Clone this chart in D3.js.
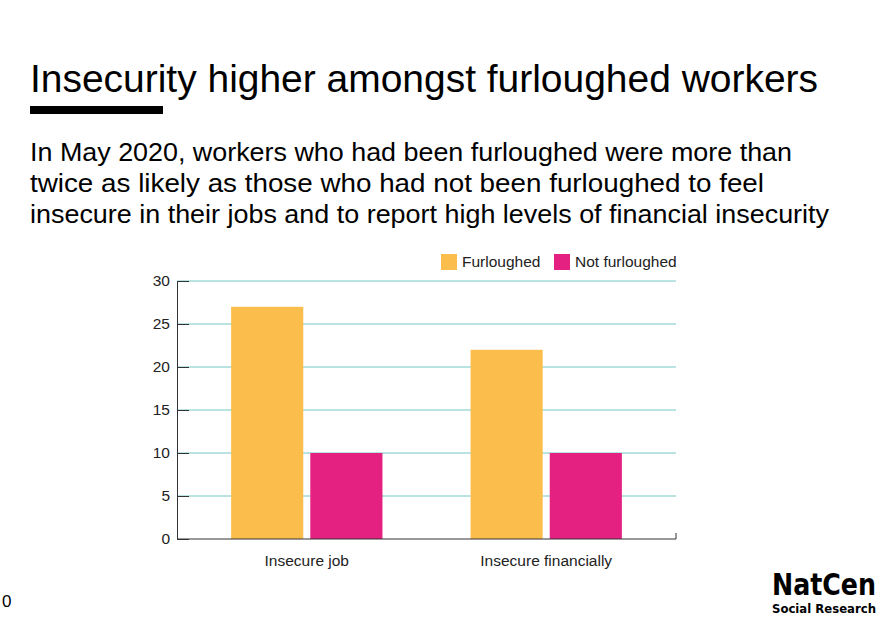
<!DOCTYPE html>
<html><head><meta charset="utf-8">
<script src="https://cdn.jsdelivr.net/npm/d3@7"></script>
<style>body{margin:0;background:#fff;} svg{display:block;font-family:"Liberation Sans",Arial,sans-serif;}</style>
</head><body>
<script>
const categories = ["Insecure job", "Insecure financially"];
const seriesNames = ["Furloughed", "Not furloughed"];
const furloughed = [27, 22];
const notFurloughed = [10, 10];
const yTicks = [0, 5, 10, 15, 20, 25, 30];
const colors = ["#FBBE4D", "#E42180"];

const W = 893, H = 623;
const svg = d3.select("body").append("svg").attr("width", W).attr("height", H);

// Title
svg.append("text").attr("x", 30).attr("y", 92).attr("font-size", 38).attr("fill", "#000")
  .attr("textLength", 788).attr("lengthAdjust", "spacingAndGlyphs")
  .text("Insecurity higher amongst furloughed workers");
svg.append("rect").attr("x", 30).attr("y", 106).attr("width", 133).attr("height", 8).attr("fill", "#000");

const sub = ["In May 2020, workers who had been furloughed were more than",
  "twice as likely as those who had not been furloughed to feel",
  "insecure in their jobs and to report high levels of financial insecurity"];
const subLen = [762, 734, 799];
svg.append("g").selectAll("text").data(sub).join("text")
  .attr("x", 30).attr("y", (d, i) => 161 + i * 31).attr("font-size", 26).attr("fill", "#000")
  .attr("textLength", (d, i) => subLen[i]).attr("lengthAdjust", "spacingAndGlyphs").text(d => d);

// Chart
const x0 = 177, x1 = 676, yTop = 281, yBot = 539;
const x = d3.scaleBand().domain(categories).range([x0, x1]).paddingInner(0.368).paddingOuter(0.226);
const xs = d3.scaleBand().domain(seriesNames).range([0, x.bandwidth()]).paddingInner(0.089);
const y = d3.scaleLinear().domain([0, 30]).range([yBot, yTop]);

// gridlines
svg.append("g").selectAll("line").data(yTicks.filter(d => d > 0)).join("line")
  .attr("x1", x0).attr("x2", x1).attr("y1", d => y(d)).attr("y2", d => y(d))
  .attr("stroke", "#72C8C3").attr("stroke-width", 1);

const data = categories.map((c, i) => ({cat: c, vals: [furloughed[i], notFurloughed[i]]}));
const g = svg.append("g").selectAll("g").data(data).join("g")
  .attr("transform", d => `translate(${x(d.cat)},0)`);
g.selectAll("rect").data(d => d.vals.map((v, j) => ({s: seriesNames[j], v, j}))).join("rect")
  .attr("x", d => xs(d.s)).attr("width", xs.bandwidth())
  .attr("y", d => y(d.v)).attr("height", d => yBot - y(d.v))
  .attr("fill", d => colors[d.j]);

// y axis
const yAxis = d3.axisLeft(y).tickValues(yTicks).tickSize(-12).tickPadding(7);
const ya = svg.append("g").attr("transform", `translate(${x0},0)`).call(yAxis);
ya.select(".domain").attr("stroke", "#333");
ya.selectAll(".tick line").attr("stroke", "#333");
ya.selectAll(".tick text").attr("font-size", 15.5).attr("fill", "#222").attr("font-family", "Liberation Sans, Arial, sans-serif");

// x axis
const xa = svg.append("g").attr("transform", `translate(0,${yBot})`);
xa.append("line").attr("x1", x0).attr("x2", x1).attr("stroke", "#333");
xa.append("line").attr("x1", x1).attr("x2", x1).attr("y1", -6).attr("y2", 0).attr("stroke", "#333");
xa.selectAll("text").data(categories).join("text")
  .attr("x", d => x(d) + x.bandwidth() / 2).attr("y", 27).attr("text-anchor", "middle")
  .attr("font-size", 15.5).attr("fill", "#222").text(d => d);

// legend
const legX = [441, 554];
const lg = svg.append("g").selectAll("g").data(seriesNames).join("g")
  .attr("transform", (d, i) => `translate(${legX[i]},254)`);
lg.append("rect").attr("width", 16).attr("height", 16).attr("fill", (d, i) => colors[i]);
lg.append("text").attr("x", 21).attr("y", 13).attr("font-size", 15.5).attr("fill", "#222").text(d => d);

// page number
svg.append("text").attr("x", 2).attr("y", 607).attr("font-size", 17).attr("fill", "#000").text("0");

// logo
svg.append("text").attr("x", 772).attr("y", 595).attr("font-size", 30).attr("font-weight", "bold")
  .attr("font-family", "Liberation Sans Narrow, DejaVu Sans Condensed, sans-serif")
  .attr("textLength", 104).attr("lengthAdjust", "spacingAndGlyphs").text("NatCen");
svg.append("text").attr("x", 772).attr("y", 613).attr("font-size", 12).attr("font-weight", "bold")
  .attr("font-family", "Liberation Sans Narrow, DejaVu Sans Condensed, sans-serif")
  .attr("textLength", 104).attr("lengthAdjust", "spacingAndGlyphs").text("Social Research");
</script>
</body></html>
